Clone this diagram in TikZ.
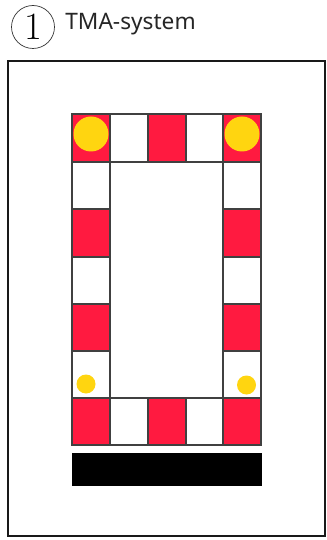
\documentclass[tikz,border=0pt]{standalone}
\usepackage{fontspec}
\setsansfont{Noto Sans}
\definecolor{cellred}{HTML}{FF1A40}
\definecolor{lampyellow}{HTML}{FFD510}
\tikzset{
    redcell/.style={fill=cellred,draw=black!75,line width=0.6pt},
    whitecell/.style={fill=white,draw=black!75,line width=0.6pt},
    lamp/.style={fill=lampyellow}
}
\begin{document}
\begin{tikzpicture}[x=0.02cm,y=-0.02cm]
    \useasboundingbox (0,0) rectangle (326,540);
    \node[circle,draw=black!80,line width=0.4pt,minimum size=0.86cm,inner sep=0pt,font=\fontsize{22}{22}\selectfont] (num) at (33,27) {1};
    \node[anchor=west,inner sep=0pt,text=black!85,font=\sffamily\fontsize{12.9}{14}\selectfont] (title) at (65,24) {TMA-system};
    \draw[line width=0.6pt,black!90] (8,61) rectangle (325,536);
    % outer ring of cells
    \foreach \y/\h/\c in {162/47/whitecell,209/48/redcell,257/47/whitecell,304/47/redcell,351/47/whitecell} {
        \draw[\c] (72,\y) rectangle ++(38,\h);
        \draw[\c] (223,\y) rectangle ++(38,\h);
    }
    \foreach \x/\w/\c in {72/38/redcell,110/38/whitecell,148/38/redcell,186/37/whitecell,223/38/redcell} {
        \draw[\c] (\x,114) rectangle ++(\w,48);
        \draw[\c] (\x,398) rectangle ++(\w,47);
    }
    \fill[black] (71.5,453) rectangle (261.5,486);
    \fill[lamp] (91,134) circle (17.5);
    \fill[lamp] (242,134) circle (17.5);
    \fill[lamp] (86,384) circle (9.5);
    \fill[lamp] (246.5,385) circle (9.5);
\end{tikzpicture}
\end{document}
